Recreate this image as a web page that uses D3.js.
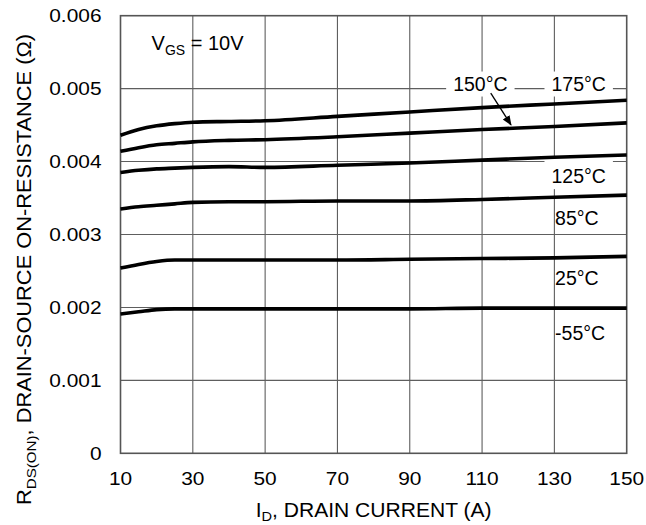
<!DOCTYPE html>
<html>
<head>
<meta charset="utf-8">
<script src="https://cdn.jsdelivr.net/npm/d3@7"></script>
<style>
  html, body { margin: 0; padding: 0; background: #fff; }
  svg { display: block; }
  text { font-family: "Liberation Sans", Arial, Helvetica, sans-serif; fill: #000; }
</style>
</head>
<body>
<svg id="chart" width="646" height="525"></svg>
<script>
// Drain current (A) sample points
const currents = [10, 15, 20, 25, 30, 40, 50, 70, 90, 110, 130, 150];

// On-resistance (ohm) per junction temperature
const r175 = [0.00436, 0.00444, 0.00449, 0.00452, 0.00454, 0.00455, 0.00456, 0.00462, 0.00468, 0.00474, 0.00479, 0.00484];
const r150 = [0.00414, 0.00419, 0.00423, 0.00425, 0.00427, 0.00429, 0.00430, 0.00434, 0.00439, 0.00444, 0.00448, 0.00453];
const r125 = [0.00385, 0.00388, 0.00390, 0.00391, 0.00392, 0.00393, 0.00392, 0.00395, 0.00398, 0.00402, 0.00406, 0.00409];
const r85  = [0.00335, 0.00338, 0.00340, 0.00342, 0.00344, 0.00345, 0.00345, 0.00346, 0.00346, 0.00348, 0.00351, 0.00354];
const r25  = [0.00254, 0.00259, 0.00263, 0.00265, 0.00265, 0.00265, 0.00265, 0.00265, 0.00266, 0.00267, 0.00268, 0.00270];
const rm55 = [0.00191, 0.00194, 0.00197, 0.00198, 0.00198, 0.00198, 0.00198, 0.00198, 0.00198, 0.00199, 0.00199, 0.00199];

const seriesValues = [r175, r150, r125, r85, r25, rm55];

// Axis ticks
const xTicks = [10, 30, 50, 70, 90, 110, 130, 150];
const yTicks = [0, 0.001, 0.002, 0.003, 0.004, 0.005, 0.006];
const yTickLabels = ["0", "0.001", "0.002", "0.003", "0.004", "0.005", "0.006"];

// Temperature labels, anchored in data units (current, resistance);
// padTop extends the white backing upward over a nearby grid line
const tempLabels = [
  { text: "150\u00B0C", at: [102.0, 0.004974], boxed: true, padTop: 1 },
  { text: "175\u00B0C", at: [129.2, 0.004974], boxed: true, padTop: 1 },
  { text: "125\u00B0C", at: [129.2, 0.003704], boxed: true, padTop: 8 },
  { text: "85\u00B0C",  at: [130.2, 0.003132], boxed: false },
  { text: "25\u00B0C",  at: [130.2, 0.002309], boxed: false },
  { text: "-55\u00B0C", at: [130.2, 0.001554], boxed: false }
];

const svg = d3.select("#chart");
const plot = { left: 120.5, right: 626.7, top: 15.7, bottom: 453.3 };

const x = d3.scaleLinear().domain([10, 150]).range([plot.left, plot.right]);
const y = d3.scaleLinear().domain([0, 0.006]).range([plot.bottom, plot.top]);

// Grid
const grid = svg.append("g").attr("stroke", "#5e5e5e").attr("stroke-width", 1.1);
grid.selectAll("line.v").data(xTicks.slice(1, -1)).join("line")
  .attr("x1", d => x(d)).attr("x2", d => x(d))
  .attr("y1", plot.top).attr("y2", plot.bottom);
grid.selectAll("line.h").data(yTicks.slice(1, -1)).join("line")
  .attr("x1", plot.left).attr("x2", plot.right)
  .attr("y1", d => y(d)).attr("y2", d => y(d));

// Frame
svg.append("rect")
  .attr("x", plot.left).attr("y", plot.top)
  .attr("width", plot.right - plot.left).attr("height", plot.bottom - plot.top)
  .attr("fill", "none").attr("stroke", "#555").attr("stroke-width", 1.6);

// White backings for labels go under the curves
const boxLayer = svg.append("g");

// Curves
const line = d3.line()
  .x((d, i) => x(currents[i]))
  .y(d => y(d))
  .curve(d3.curveMonotoneX);

svg.append("g").selectAll("path").data(seriesValues).join("path")
  .attr("d", d => line(d))
  .attr("fill", "none")
  .attr("stroke", "#000")
  .attr("stroke-width", 3.6)
  .attr("stroke-linejoin", "round");

// Temperature labels
const labelFont = 19.5;
const lg = svg.append("g");
tempLabels.forEach(l => {
  const t = lg.append("text")
    .attr("x", x(l.at[0])).attr("y", y(l.at[1]))
    .attr("font-size", labelFont)
    .text(l.text);
  if (l.boxed) {
    const bb = t.node().getBBox();
    boxLayer.append("rect")
      .attr("x", bb.x - 7).attr("y", bb.y - l.padTop)
      .attr("width", bb.width + 14).attr("height", bb.height + l.padTop + 2)
      .attr("fill", "#fff");
  }
});

// Arrow from the 150°C label down to its curve
svg.append("defs").append("marker")
  .attr("id", "arrowhead")
  .attr("viewBox", "0 0 10 10").attr("refX", 9).attr("refY", 5)
  .attr("markerWidth", 10).attr("markerHeight", 10)
  .attr("markerUnits", "userSpaceOnUse")
  .attr("orient", "auto")
  .append("path").attr("d", "M0,1 L10,5 L0,9 Z").attr("fill", "#000");

const arrowFrom = [112.4, 0.004938];
const arrowTo = [118.0, 0.004503];
svg.append("line")
  .attr("x1", x(arrowFrom[0])).attr("y1", y(arrowFrom[1]))
  .attr("x2", x(arrowTo[0])).attr("y2", y(arrowTo[1]))
  .attr("stroke", "#000").attr("stroke-width", 1.3)
  .attr("marker-end", "url(#arrowhead)");

// V_GS condition
const vgs = svg.append("text")
  .attr("x", x(18.6)).attr("y", y(0.005532))
  .attr("font-size", 20);
vgs.append("tspan").text("V");
vgs.append("tspan").attr("font-size", 14).attr("dy", 5).text("GS");
vgs.append("tspan").attr("dy", -5).text(" = 10V");

// Y tick labels
const tickFont = 18;
svg.append("g").selectAll("text").data(yTicks).join("text")
  .attr("transform", d => `translate(101.5,${y(d) + 6.5}) scale(1.16,1)`)
  .attr("text-anchor", "end")
  .attr("font-size", tickFont)
  .text((d, i) => yTickLabels[i]);

// X tick labels
svg.append("g").selectAll("text").data(xTicks).join("text")
  .attr("transform", d => `translate(${x(d)},485) scale(1.16,1)`)
  .attr("text-anchor", "middle")
  .attr("font-size", tickFont)
  .text(d => d);

// X axis title
const xt = svg.append("text")
  .attr("transform", `translate(${(plot.left + plot.right) / 2},517) scale(1.08,1)`)
  .attr("text-anchor", "middle")
  .attr("font-size", 19.5);
xt.append("tspan").text("I");
xt.append("tspan").attr("font-size", 13.5).attr("dy", 4).text("D");
xt.append("tspan").attr("dy", -4).text(", DRAIN CURRENT (A)");

// Y axis title
const yt = svg.append("text")
  .attr("transform", `translate(31,505) rotate(-90) scale(1.12,1)`)
  .attr("text-anchor", "start")
  .attr("font-size", 19.5);
yt.append("tspan").text("R");
yt.append("tspan").attr("font-size", 13.5).attr("dy", 5).text("DS(ON)");
yt.append("tspan").attr("dy", -5).text(", DRAIN-SOURCE ON-RESISTANCE (\u03A9)");
</script>
</body>
</html>
